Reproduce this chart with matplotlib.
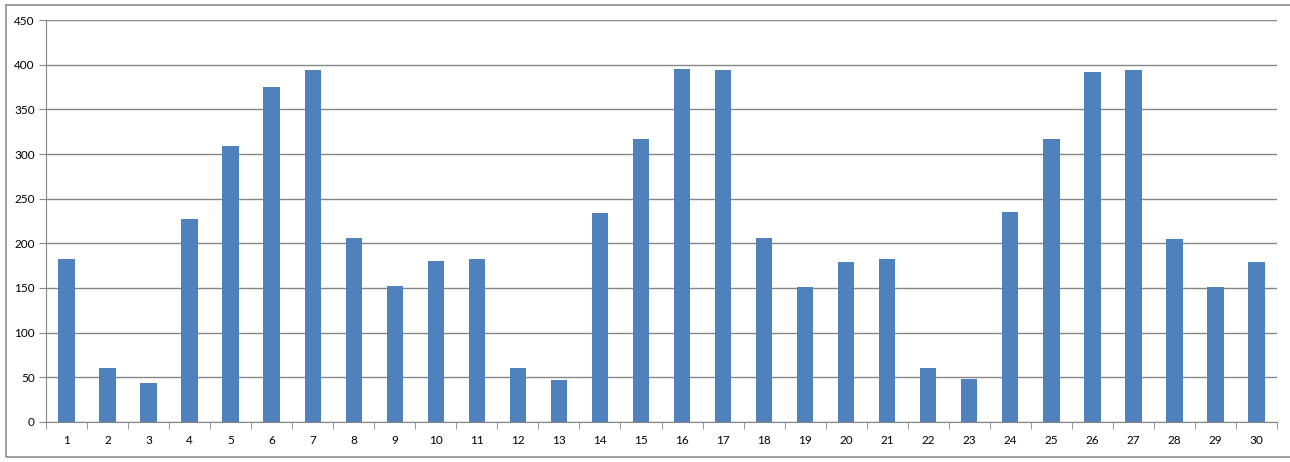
import matplotlib.pyplot as plt
from matplotlib.patches import Rectangle
import numpy as np

categories = [str(i) for i in range(1, 31)]
values = [182, 60, 44, 227, 309, 375, 394, 206, 152, 180,
          182, 60, 47, 234, 317, 395, 394, 206, 151, 179,
          182, 60, 48, 235, 317, 392, 394, 205, 151, 179]
yticks = [0, 50, 100, 150, 200, 250, 300, 350, 400, 450]

plt.rcParams['font.family'] = ['Lato', 'DejaVu Sans']

fig = plt.figure(figsize=(12.9, 4.62), dpi=100)
# chart frame (right edge runs off the picture)
fig.patches.append(Rectangle((5.5 / 1290, 5 / 462), 1300 / 1290, 452 / 462,
                             transform=fig.transFigure, fill=False,
                             edgecolor='#8c8c8c', linewidth=1.2))

ax = fig.add_axes([46 / 1290, 40 / 462, 1231 / 1290, 402 / 462])
x = np.arange(len(categories))
ax.bar(x, values, width=0.4, color='#4f81bd', zorder=3)

ax.set_xlim(-0.5, len(categories) - 0.5)
ax.set_ylim(0, 450)
ax.set_yticks(yticks)
ax.set_xticks(x)
ax.set_xticklabels(categories)
ax.set_xticks(np.arange(-0.5, len(categories)), minor=True)
ax.tick_params(axis='x', which='major', length=0, pad=9, labelsize=8.5)
ax.tick_params(axis='x', which='minor', length=5, color='#868686', direction='out')
ax.tick_params(axis='y', length=5, color='#868686', direction='out', pad=3, labelsize=8.5)

ax.grid(axis='y', color='#868686', linewidth=1, zorder=0)
for side in ['top', 'right']:
    ax.spines[side].set_visible(False)
for side in ['left', 'bottom']:
    ax.spines[side].set_color('#868686')

fig.savefig('out.png', dpi=100)
